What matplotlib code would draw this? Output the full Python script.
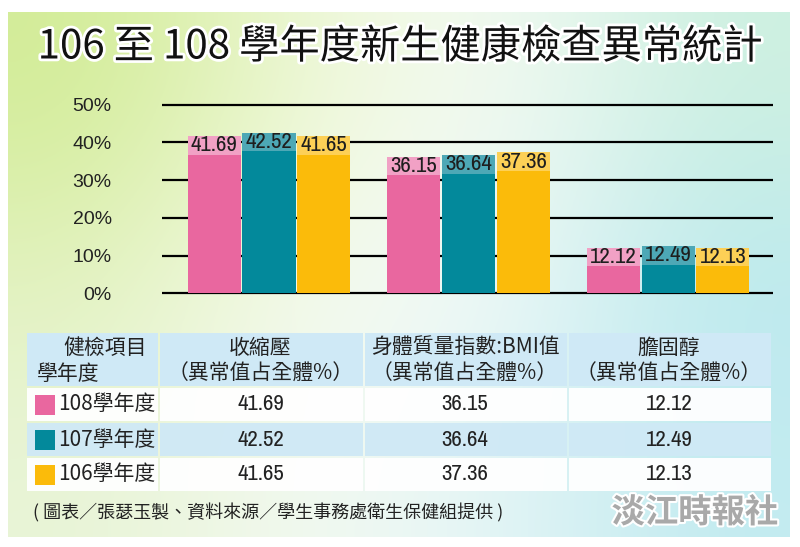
import numpy as np
import matplotlib
matplotlib.use('Agg')
import matplotlib.pyplot as plt
import matplotlib.patheffects as pe
from matplotlib.patches import Rectangle
from matplotlib import font_manager

# data
years = ['108學年度', '107學年度', '106學年度']
items = ['收縮壓', '身體質量指數:BMI值', '膽固醇']
v108 = [41.69, 36.15, 12.12]
v107 = [42.52, 36.64, 12.49]
v106 = [41.65, 37.36, 12.13]
yticks = [0, 10, 20, 30, 40, 50]

series = [v108, v107, v106]
colors = ['#e9679f', '#03899b', '#fbbb0a']
light = ['#f1a1c5', '#4da8b6', '#fdd056']

names = sorted({f.name for f in font_manager.fontManager.ttflist})
narrow = [n for n in names if 'Narrow' in n or 'Condensed' in n]
if narrow:
    NARROW, NSIZE = narrow[0], 16.5
else:
    NARROW, NSIZE = 'Liberation Sans', 13
CJK = ['Noto Sans CJK TC', 'DejaVu Sans']

fig = plt.figure(figsize=(8, 5.47), dpi=100)
fig.patch.set_facecolor('white')

# background panel
bg = fig.add_axes([0, 0, 1, 1], zorder=0)
grad = np.array([
    [[210, 236, 150], [238, 248, 214], [246, 251, 246], [205, 240, 224]],
    [[226, 242, 190], [248, 252, 240], [240, 249, 249], [186, 233, 238]],
    [[232, 244, 214], [244, 250, 242], [228, 245, 246], [194, 235, 240]],
]) / 255.0
bg.imshow(grad, extent=(8, 790, 537, 12), interpolation='bicubic', aspect='auto', zorder=0)
bg.set_xlim(0, 800)
bg.set_ylim(547, 0)
bg.axis('off')

# title
bg.text(400, 47, '106 至 108 學年度新生健康檢查異常統計', ha='center', va='center',
        fontsize=29, family=CJK, color='#111111',
        path_effects=[pe.withStroke(linewidth=4, foreground='white')])

# bar chart
ax = fig.add_axes([0.2021, 0.4569, 0.7642, 0.3585], zorder=1)
ax.patch.set_alpha(0)
ax.set_xlim(-0.538, 2.526)
ax.set_ylim(-1, 51)
for t in yticks:
    ax.axhline(t, color='black', lw=1.6, zorder=1)

x = np.arange(len(items))
w = 0.266
strip = 4.9
for i, vals in enumerate(series):
    xs = x + (i - 1) * 0.2745
    ax.bar(xs, vals, width=w, color=colors[i], zorder=2)
    tops = np.array(vals)
    ax.bar(xs, [strip] * len(vals), bottom=tops - strip, width=w, color=light[i], zorder=3)
    for xi, v in zip(xs, vals):
        ax.text(xi, v - strip / 2, f'{v:.2f}', ha='center', va='center',
                fontsize=NSIZE, family=NARROW, color='#1e1e1e', zorder=4)

ax.set_yticks(yticks, labels=[f'{t}%' for t in yticks])
ax.tick_params(axis='y', length=0, pad=36, labelsize=14, labelcolor='#222222')
for lab in ax.get_yticklabels():
    lab.set_family('Liberation Sans')
ax.set_xticks([])
for s in ax.spines.values():
    s.set_visible(False)

# table
cols = [27, 158, 363, 567, 771]
gap = 2
header = (333, 386)
rows = [(388, 421), (423, 456), (458, 491)]
blue = '#cfe9f6'
row_bg = ['white', blue, 'white']

for c in range(4):
    x0, x1 = cols[c] + (gap if c else 0), cols[c + 1]
    bg.add_patch(Rectangle((x0, header[0]), x1 - x0, header[1] - header[0],
                           facecolor=blue, edgecolor='none', zorder=2))
    for r, (y0, y1) in enumerate(rows):
        bg.add_patch(Rectangle((x0, y0), x1 - x0, y1 - y0,
                               facecolor=row_bg[r], edgecolor='none', alpha=0.95, zorder=2))

bg.text(147, 348, '健檢項目', ha='right', va='center', fontsize=15, family=CJK, color='#222', zorder=3)
bg.text(37, 374, '學年度', ha='left', va='center', fontsize=15, family=CJK, color='#222', zorder=3)
for c, name in enumerate(items):
    cx = (cols[c + 1] + cols[c + 2]) / 2
    bg.text(cx, 348, name, ha='center', va='center', fontsize=15, family=CJK, color='#222', zorder=3)
    bg.text(cx, 374, '（異常值占全體%）', ha='center', va='center', fontsize=15, family=CJK,
            color='#222', zorder=3)

for r, (y0, y1) in enumerate(rows):
    cy = (y0 + y1) / 2
    bg.add_patch(Rectangle((35, cy - 10), 20, 20, facecolor=colors[r], edgecolor='none', zorder=3))
    bg.text(58, cy, years[r], ha='left', va='center', fontsize=15, family=CJK, color='#222', zorder=3)
    for c in range(3):
        cx = (cols[c + 1] + cols[c + 2]) / 2
        bg.text(cx, cy, f'{series[r][c]:.2f}', ha='center', va='center', fontsize=NSIZE,
                family=NARROW, color='#222', zorder=3)

# footer
bg.text(33, 513, '( 圖表／張瑟玉製、資料來源／學生事務處衛生保健組提供 )', ha='left', va='center',
        fontsize=13, family=CJK, color='#222')
bg.text(695, 513, '淡江時報社', ha='center', va='center', fontsize=24, weight='bold',
        family=CJK, color='#a9a9a9',
        path_effects=[pe.withStroke(linewidth=3, foreground='white')])

fig.savefig('out.png', dpi=100)
